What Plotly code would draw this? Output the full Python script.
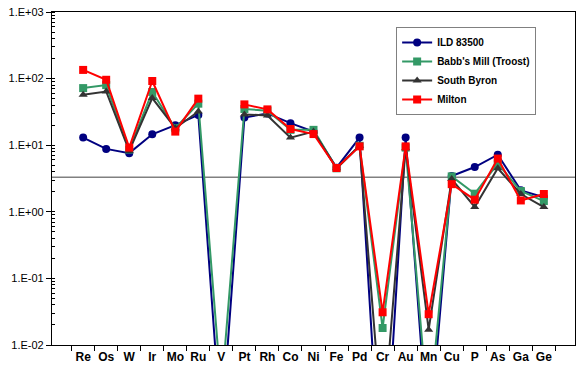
import plotly.graph_objects as go

elements = ["Re", "Os", "W", "Ir", "Mo", "Ru", "V", "Pt", "Rh", "Co", "Ni",
            "Fe", "Pd", "Cr", "Au", "Mn", "Cu", "P", "As", "Ga", "Ge"]

# values below 1E-02 fall off the bottom of the log axis; None = no data
ild_83500 = [13, 8.8, 7.6, 14.6, 20, 28.5, 0.0005, 26, 30, 21.4, 16,
             4.6, 13, 0.00003, 13, 0.0003, 3.45, 4.7, 7.2, 2.1, 1.65]
babbs_mill = [72, 80, 8.6, 63, 18, 42, 0.002, 35, 33, 17, 17,
              4.5, 9.8, 0.018, 9.2, 0.0008, 3.4, 1.87, 5.3, 2.05, 1.45]
south_byron = [57, 64, 8.2, 51, 18, 32, None, 29, 28, 13, 16,
               4.5, 9.8, 0.0005, 9.0, 0.017, 3.1, 1.18, 4.5, 1.85, 1.18]
milton = [135, 96, 9.2, 92, 16, 50, None, 41, 34.5, 17.5, 14.7,
          4.55, 9.6, 0.031, 9.6, 0.029, 2.6, 1.52, 6.3, 1.48, 1.85]

ref_level = 3.3

y_tickvals = [1e-2, 1e-1, 1e0, 1e1, 1e2, 1e3]
y_ticktext = ["1.E-02", "1.E-01", "1.E+00", "1.E+01", "1.E+02", "1.E+03"]

series = [
    ("ILD 83500", ild_83500, "#000080", "circle"),
    ("Babb's Mill (Troost)", babbs_mill, "#339966", "square"),
    ("South Byron", south_byron, "#333333", "triangle-up"),
    ("Milton", milton, "#FF0000", "square"),
]

fig = go.Figure()
for name, vals, color, sym in series:
    fig.add_trace(go.Scatter(
        x=elements, y=vals, name=name, mode="lines+markers",
        line=dict(color=color, width=2),
        marker=dict(color=color, symbol=sym, size=8),
        connectgaps=False, cliponaxis=True,
    ))

fig.add_shape(type="line", xref="paper", yref="y", x0=0, x1=1,
              y0=ref_level, y1=ref_level, line=dict(color="#808080", width=1.5),
              layer="below")

fig.update_layout(
    width=582, height=372,
    margin=dict(l=52, r=7, t=11.5, b=27),
    paper_bgcolor="white", plot_bgcolor="white",
    font=dict(family="Liberation Sans, Arial, sans-serif", color="black"),
    showlegend=True,
    legend=dict(
        x=0.658, y=0.955, xanchor="left", yanchor="top",
        bgcolor="white", bordercolor="#808080", borderwidth=1,
        font=dict(size=10, weight="bold", color="black"),
        itemwidth=30, tracegroupgap=0,
    ),
)

fig.update_xaxes(
    type="category", categoryorder="array", categoryarray=elements,
    showline=True, linecolor="black", linewidth=1.2, mirror=True,
    ticks="outside", tickson="boundaries", ticklen=5, tickcolor="black",
    showgrid=False, zeroline=False, tickangle=0, automargin=False,
    tickfont=dict(size=12, weight="bold", color="black"),
)
fig.update_yaxes(
    type="log", range=[-2, 3],
    tickvals=y_tickvals, ticktext=y_ticktext,
    showline=True, linecolor="black", linewidth=1.2, mirror=True,
    ticks="outside", ticklen=5, tickcolor="black",
    minor=dict(ticks="inside", ticklen=3, tickcolor="black", dtick="D1", showgrid=False),
    showgrid=False, zeroline=False, automargin=False,
    ticklabeloverflow="allow",
    tickfont=dict(size=11, color="black"),
)

# remove the page's default 8px body margin so the figure fills the window
fig.write_html("out.html",
               config={"displayModeBar": False},
               post_script="document.body.style.margin='0';document.body.style.overflow='hidden';")
